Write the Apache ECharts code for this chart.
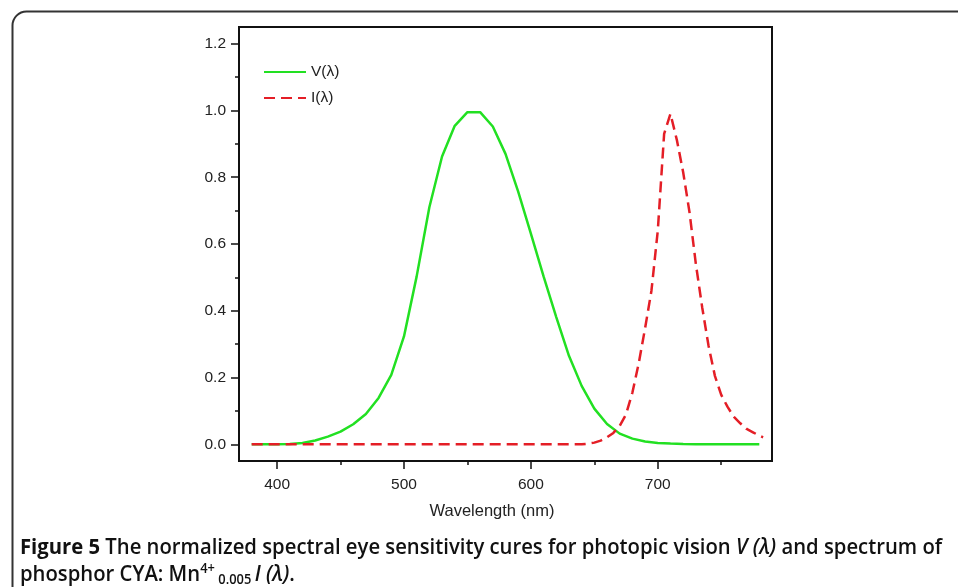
<!DOCTYPE html>
<html>
<head>
<meta charset="utf-8">
<script src="https://cdn.jsdelivr.net/npm/echarts@6/dist/echarts.min.js"></script>
<style>
html,body{margin:0;padding:0;background:#fff;}
#chart{width:958px;height:587px;}
</style>
</head>
<body>
<div id="chart"></div>
<script>
// ---- data ----
const vWavelengths = [380,390,400,410,420,430,440,450,460,470,480,490,500,510,520,530,540,550,560,570,580,590,600,610,620,630,640,650,660,670,680,690,700,710,720,730,740,750,760,770,780];
const vValues = [0.0000,0.0001,0.0004,0.0012,0.0040,0.0116,0.0230,0.0380,0.0600,0.0910,0.139,0.208,0.323,0.503,0.710,0.862,0.954,0.995,0.995,0.952,0.870,0.757,0.631,0.503,0.381,0.265,0.175,0.107,0.061,0.032,0.017,0.0082,0.0041,0.0021,0.0010,0.0005,0.0003,0.0001,0.0001,0.0000,0.0000];

const iWavelengths = [380,390,400,410,420,430,440,450,460,470,480,490,500,510,520,530,540,550,560,570,580,590,600,610,620,630,640,645,650,655,660,665,670,675,680,685,690,695,700,705,710,715,720,725,730,735,740,745,750,755,760,765,770,775,780,783];
const iValues = [0,0,0,0,0,0,0,0,0,0,0,0,0,0,0,0,0,0,0,0,0,0,0,0,0,0,0,0.002,0.005,0.011,0.021,0.034,0.055,0.09,0.155,0.243,0.348,0.46,0.64,0.93,0.99,0.912,0.815,0.695,0.54,0.41,0.295,0.205,0.148,0.112,0.082,0.063,0.046,0.036,0.026,0.021];

const xMajorTicks = [400,500,600,700];
const xMinorTicks = [450,550,650,750];
const yMajorTicks = [0,0.2,0.4,0.6,0.8,1.0,1.2];
const yMinorTicks = [0.1,0.3,0.5,0.7,0.9,1.1];

const seriesNames = ['V(\u03bb)','I(\u03bb)'];
const xAxisTitle = 'Wavelength (nm)';

const vData = vWavelengths.map((w,i)=>[w,vValues[i]]);
const iData = iWavelengths.map((w,i)=>[w,iValues[i]]);

const chart = echarts.init(document.getElementById('chart'), null, {renderer:'canvas'});

const arial = 'Liberation Sans, Arial, sans-serif';
const tickFont = {fontFamily:arial, fontSize:15.5, color:'#222'};
const capFont = 'Open Sans, sans-serif';

const option = {
  backgroundColor:'#fff',
  animation:false,
  grid:{left:239, top:27, right:186, bottom:126, show:true, borderColor:'#111', borderWidth:2, backgroundColor:'transparent'},
  legend:{
    left:258, top:59, orient:'vertical', itemWidth:42, itemHeight:14, itemGap:10,
    data:seriesNames,
    itemStyle:{opacity:0},
    textStyle:{fontFamily:arial, fontSize:15.5, color:'#222'}
  },
  xAxis:[
    {type:'value', min:370, max:790, position:'bottom',
     axisLine:{show:true, onZero:false, lineStyle:{color:'#111', width:2}},
     axisTick:{show:true, inside:false, length:8, customValues:xMajorTicks, lineStyle:{color:'#111', width:1.5}},
     axisLabel:Object.assign({show:true, margin:16, customValues:xMajorTicks}, tickFont),
     splitLine:{show:false}
    },
    {type:'value', min:370, max:790, position:'bottom',
     axisLine:{show:false, onZero:false},
     axisTick:{show:true, inside:false, length:4, customValues:xMinorTicks, lineStyle:{color:'#111', width:1.5}},
     axisLabel:{show:false},
     splitLine:{show:false}
    }
  ],
  yAxis:[
    {type:'value', min:-0.05, max:1.25, position:'left',
     axisLine:{show:true, onZero:false, lineStyle:{color:'#111', width:2}},
     axisTick:{show:true, inside:false, length:8, customValues:yMajorTicks, lineStyle:{color:'#111', width:1.5}},
     axisLabel:Object.assign({show:true, margin:13, customValues:yMajorTicks, formatter:v=>v.toFixed(1)}, tickFont),
     splitLine:{show:false}
    },
    {type:'value', min:-0.05, max:1.25, position:'left',
     axisLine:{show:false, onZero:false},
     axisTick:{show:true, inside:false, length:4, customValues:yMinorTicks, lineStyle:{color:'#111', width:1.5}},
     axisLabel:{show:false},
     splitLine:{show:false}
    }
  ],
  series:[
    {name:seriesNames[0], type:'line', data:vData, xAxisIndex:0, yAxisIndex:0,
     symbol:'none', smooth:false, lineStyle:{color:'#22e022', width:2.5}, itemStyle:{color:'#22e022'}, z:3},
    {name:seriesNames[1], type:'line', data:iData, xAxisIndex:0, yAxisIndex:0,
     symbol:'none', smooth:false, lineStyle:{color:'#e41e26', width:2.5, type:[11,6]}, itemStyle:{color:'#e41e26'}, z:4}
  ],
  graphic:[
    {type:'rect', left:10, top:9, shape:{width:980, height:620, r:14}, style:{fill:'none', stroke:'#333', lineWidth:2}, z:-1},
    {type:'text', x:492, y:511, style:{text:xAxisTitle, fontFamily:arial, fontSize:16.5, fill:'#222', align:'center', verticalAlign:'middle'}},
    {type:'text', left:20, top:537, style:{
      rich:{
        b:{fontFamily:capFont, fontWeight:'bold', fontSize:22, fill:'#111'},
        s:{fontFamily:capFont, fontWeight:600, fontSize:22, fill:'#111'},
        i:{fontFamily:capFont, fontWeight:600, fontStyle:'italic', fontSize:22, fill:'#111'}
      },
      text:'{b|Figure 5}{s| The normalized spectral eye sensitivity cures for photopic vision }{i|V (\u03bb)}{s| and spectrum of}'
    }, scaleX:0.921, originX:20},
    {type:'text', left:20, top:562, style:{
      rich:{
        s:{fontFamily:capFont, fontWeight:600, fontSize:22, fill:'#111'},
        sup:{fontFamily:capFont, fontWeight:600, fontSize:14, fill:'#111', padding:[0,0,12,0]},
        sub:{fontFamily:capFont, fontWeight:600, fontSize:14, fill:'#111', padding:[10,0,0,0]},
        i:{fontFamily:capFont, fontWeight:600, fontStyle:'italic', fontSize:22, fill:'#111'}
      },
      text:'{s|phosphor CYA: Mn}{sup|4+}{sub| 0.005 }{i|I (\u03bb)}{s|.}'
    }, scaleX:0.921, originX:20}
  ]
};
chart.setOption(option);
</script>
</body>
</html>
